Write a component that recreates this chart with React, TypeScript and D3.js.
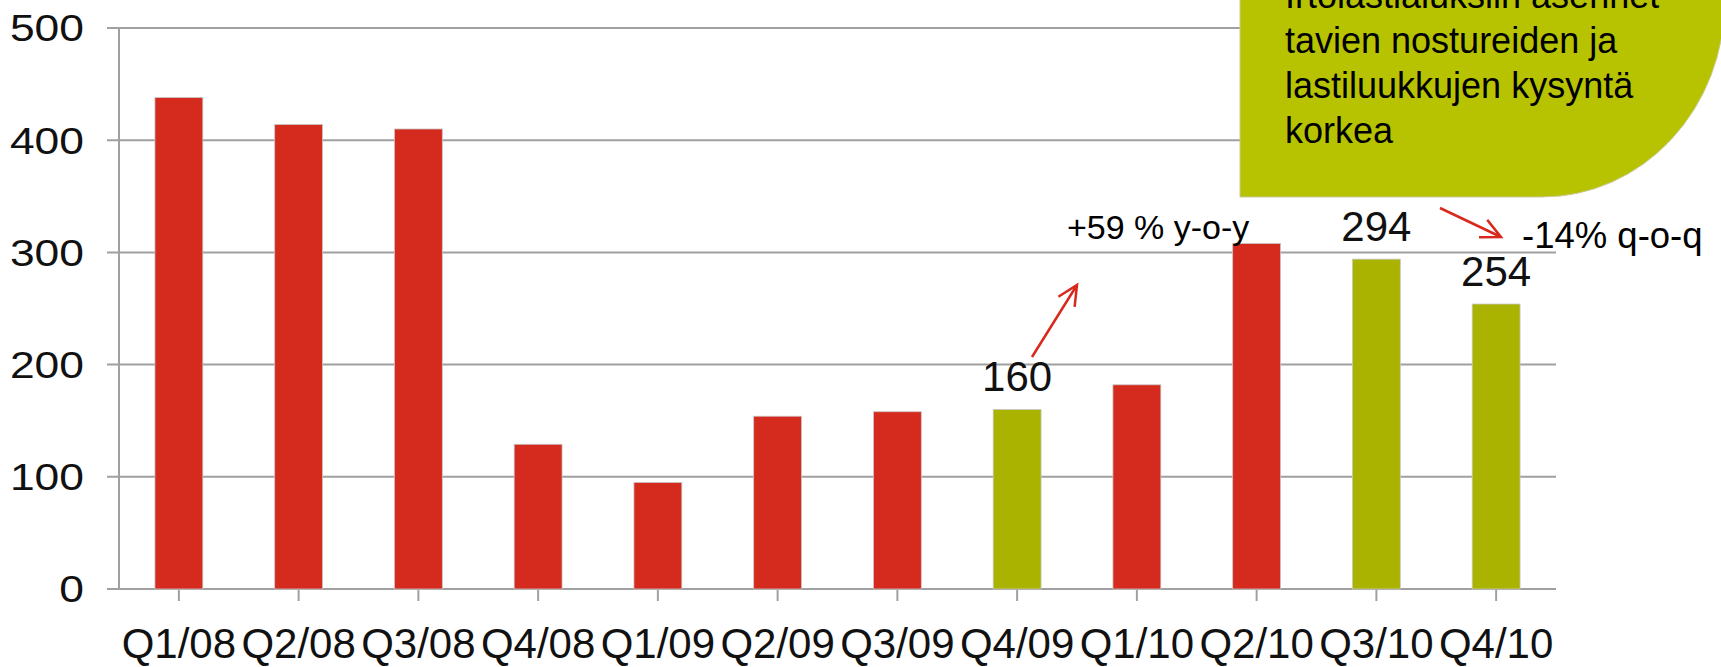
import React from 'react';
import * as d3 from 'd3';

// quarterly values
const quarters = ['Q1/08', 'Q2/08', 'Q3/08', 'Q4/08', 'Q1/09', 'Q2/09', 'Q3/09', 'Q4/09', 'Q1/10', 'Q2/10', 'Q3/10', 'Q4/10'];
const values = [438, 414, 410, 129, 95, 154, 158, 160, 182, 308, 294, 254];
const highlighted = ['Q4/09', 'Q3/10', 'Q4/10'];
const labelled = ['Q4/09', 'Q3/10', 'Q4/10'];
const yTicks = [0, 100, 200, 300, 400, 500];
const boxLines = ['Irtolastialuksiin asennet', 'tavien nostureiden ja', 'lastiluukkujen kysyntä', 'korkea'];

const W = 1721;
const H = 667;
const RED = '#d52b1e';
const GREEN = '#aab400';
const BOX = '#b7c300';
const GRID = '#a0a0a0';
const FONT = 'Liberation Sans, Arial, sans-serif';

export default function App() {
  const x = d3.scaleBand<string>().domain(quarters).range([119, 1556]).paddingInner(0.6).paddingOuter(0.3);
  const y = d3.scaleLinear().domain([0, 500]).range([589, 28]);
  const cx = (q: string) => x(q)! + x.bandwidth() / 2;

  const rows = quarters.map((q, i) => ({ q, v: values[i] }));

  // small open-headed arrow for the annotations
  const arrow = (x1: number, y1: number, x2: number, y2: number) => {
    const a = Math.atan2(y2 - y1, x2 - x1);
    const len = 22;
    const spread = 0.45;
    const h1 = [x2 - len * Math.cos(a - spread), y2 - len * Math.sin(a - spread)];
    const h2 = [x2 - len * Math.cos(a + spread), y2 - len * Math.sin(a + spread)];
    return `M${x1},${y1}L${x2},${y2}M${h1[0]},${h1[1]}L${x2},${y2}L${h2[0]},${h2[1]}`;
  };

  return (
    <svg width={W} height={H} style={{ position: 'absolute', left: 0, top: 0, background: '#fff' }} fontFamily={FONT}>
      {/* gridlines + y ticks */}
      {yTicks.map(t => (
        <g key={t}>
          <line x1={107} x2={1556} y1={y(t)} y2={y(t)} stroke={GRID} strokeWidth={2} />
          <text transform={`translate(84,${y(t)}) scale(1.2,1)`} dy="0.36em" textAnchor="end" fontSize={37} fill="#111">
            {t}
          </text>
        </g>
      ))}
      {/* y axis */}
      <line x1={119} x2={119} y1={y(500)} y2={y(0)} stroke={GRID} strokeWidth={2} />
      {/* x ticks */}
      {quarters.map(q => (
        <line key={q} x1={cx(q)} x2={cx(q)} y1={y(0)} y2={y(0) + 12} stroke={GRID} strokeWidth={2} />
      ))}
      {/* bars */}
      {rows.map(d => (
        <rect
          key={d.q}
          x={x(d.q)}
          y={y(d.v)}
          width={x.bandwidth()}
          height={y(0) - y(d.v)}
          fill={highlighted.includes(d.q) ? GREEN : RED}
          stroke="#c8c8c8"
          strokeWidth={0.8}
        />
      ))}
      {/* category labels */}
      {quarters.map(q => (
        <text key={q} x={cx(q)} y={658} textAnchor="middle" fontSize={42} fill="#111">
          {q}
        </text>
      ))}
      {/* data labels */}
      {rows
        .filter(d => labelled.includes(d.q))
        .map(d => (
          <text key={d.q} x={cx(d.q)} y={y(d.v) - 18} textAnchor="middle" fontSize={42} fill="#111">
            {d.v}
          </text>
        ))}
      {/* callout box */}
      <path d="M1240,-10L1240,197L1542,197A183,197 0 0 0 1725,0L1725,-10Z" fill={BOX} stroke="#c9c9a0" strokeWidth={1} />
      {boxLines.map((l, i) => (
        <text key={i} x={1285} y={8 + i * 45} fontSize={36} fill="#000">
          {l}
        </text>
      ))}
      {/* annotations */}
      <text x={1067} y={239} fontSize={34} fill="#000">
        +59 % y-o-y
      </text>
      <text x={1522} y={248} fontSize={36.5} fill="#000">
        -14% q-o-q
      </text>
      <path d={arrow(1032, 357, 1077, 285)} stroke="#d9291c" strokeWidth={2.5} fill="none" />
      <path d={arrow(1440, 208, 1501, 237)} stroke="#d9291c" strokeWidth={2.5} fill="none" />
    </svg>
  );
}
